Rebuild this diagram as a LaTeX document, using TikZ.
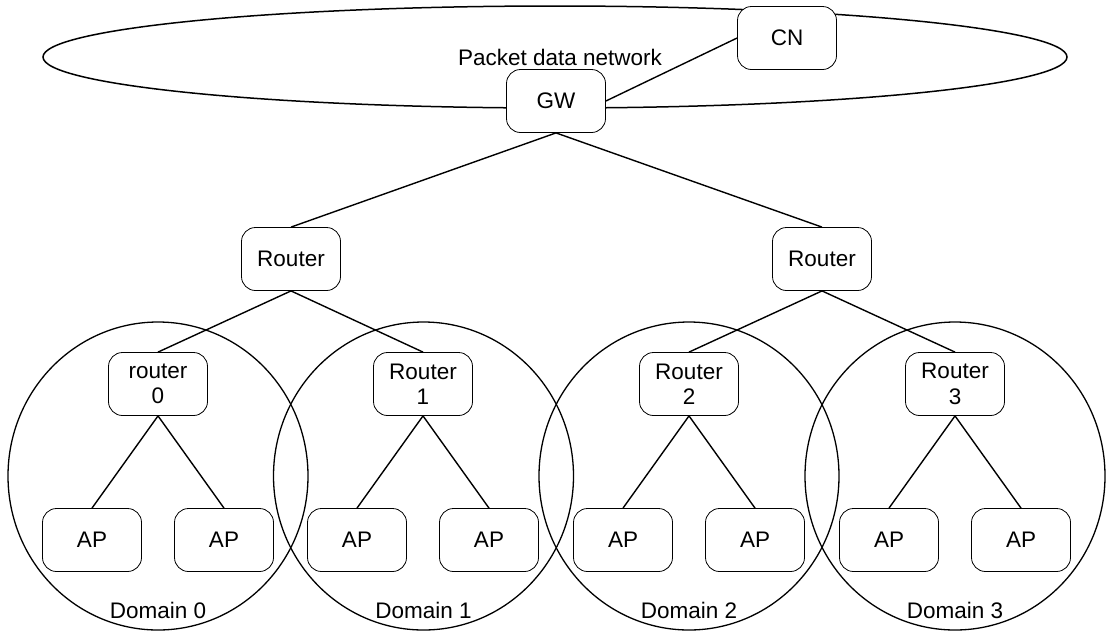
\documentclass[tikz,border=0pt]{standalone}
\usepackage{fontspec}
\setmainfont{Liberation Sans}
\begin{document}
\begin{tikzpicture}[x=1pt,y=-1pt,
  box/.style={draw, line width=0.8pt, rounded corners=14pt, fill=white,
    minimum width=99pt, minimum height=63pt, align=center,
    inner sep=0pt, font=\fontsize{22.5}{25.5}\selectfont},
  link/.style={line width=1.4pt},
  zone/.style={line width=1.3pt},
  lbl/.style={font=\fontsize{22.5}{26}\selectfont, inner sep=0pt}]
\useasboundingbox (0,0) rectangle (1108,633);

% packet data network cloud
\draw[zone, line width=1.5pt] (555,57) ellipse [x radius=512, y radius=51];
\node[lbl] (pdn) at (560,57) {Packet data network};

% domain circles
\foreach \i/\cx in {0/158,1/423.5,2/689,3/955}{
  \draw[zone] (\cx,476) ellipse [x radius=150, y radius=154];
  \node[lbl] (dom\i) at (\cx,610) {Domain \i};
}

% nodes
\node[box] (cn) at (787,38) {CN};
\node[box] (gw) at (556,101) {GW};
\node[box] (rl) at (291,259) {Router};
\node[box] (rr) at (822,259) {Router};
\node[box] (r0) at (158,384) {router\\0};
\node[box] (r1) at (423,384) {Router\\1};
\node[box] (r2) at (689,384) {Router\\2};
\node[box] (r3) at (955,384) {Router\\3};
\node[box] (a0) at (92,540) {AP};
\node[box] (a1) at (224,540) {AP};
\node[box] (a2) at (357,540) {AP};
\node[box] (a3) at (489,540) {AP};
\node[box] (a4) at (623,540) {AP};
\node[box] (a5) at (755,540) {AP};
\node[box] (a6) at (889,540) {AP};
\node[box] (a7) at (1021,540) {AP};

% links
\draw[link] (gw.east) -- (cn.west);
\draw[link] (gw.south) -- (rl.north);
\draw[link] (gw.south) -- (rr.north);
\draw[link] (rl.south) -- (r0.north);
\draw[link] (rl.south) -- (r1.north);
\draw[link] (rr.south) -- (r2.north);
\draw[link] (rr.south) -- (r3.north);
\draw[link] (r0.south) -- (a0.north);
\draw[link] (r0.south) -- (a1.north);
\draw[link] (r1.south) -- (a2.north);
\draw[link] (r1.south) -- (a3.north);
\draw[link] (r2.south) -- (a4.north);
\draw[link] (r2.south) -- (a5.north);
\draw[link] (r3.south) -- (a6.north);
\draw[link] (r3.south) -- (a7.north);
\end{tikzpicture}
\end{document}
